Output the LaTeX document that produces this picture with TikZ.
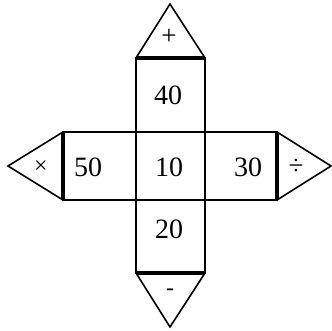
\documentclass[tikz,border=0pt]{standalone}
\usepackage{fontspec}
\setmainfont{Liberation Serif}
\begin{document}
\begin{tikzpicture}[x=1pt,y=-1pt,
  edge/.style={line width=1.6pt,line join=miter},
  heavy/.style={line width=3.6pt},
  num/.style={font=\fontsize{28}{28}\selectfont,inner sep=0pt},
  op/.style={font=\fontsize{27}{27}\selectfont,inner sep=0pt},
  opsmall/.style={font=\fontsize{24}{24}\selectfont,inner sep=0pt}]
\useasboundingbox (0,0) rectangle (332,331);
% column and band
\draw[edge] (136,58) rectangle (205,273);
\draw[edge] (63,132) rectangle (277,200);
% triangles
\draw[edge] (136,58) -- (170,4) -- (205,58);
\draw[edge] (136,273) -- (170,327) -- (205,273);
\draw[edge] (63,132) -- (8,166) -- (63,200);
\draw[edge] (277,132) -- (331,166) -- (277,200);
% heavy joins
\draw[heavy] (136,58) -- (205,58);
\draw[heavy] (136,273) -- (205,273);
\draw[heavy] (63,132) -- (63,200);
\draw[heavy] (277,132) -- (277,200);
% numbers
\node[num] (n40) at (168,95) {40};
\node[num] (n10) at (169,167) {10};
\node[num] (n20) at (169,229) {20};
\node[num] (n50) at (88,167) {50};
\node[num] (n30) at (248,167) {30};
% operators
\node[op] (plus) at (169,37) {+};
\node[opsmall] (times) at (41,167) {×};
\node[op] (div) at (296,167) {÷};
\node[opsmall] (minus) at (170,292) {-};
\end{tikzpicture}
\end{document}
